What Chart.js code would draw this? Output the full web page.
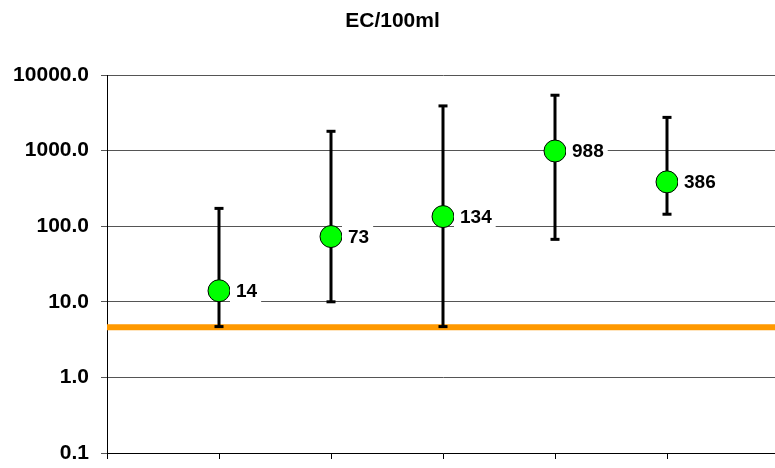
<!DOCTYPE html>
<html><head><meta charset="utf-8">
<script src="https://cdn.jsdelivr.net/npm/chart.js@4/dist/chart.umd.min.js"></script>
<style>html,body{margin:0;padding:0;overflow:hidden;background:#fff}canvas{display:block}</style>
</head><body>
<canvas id="c" width="781" height="468"></canvas>
<script>
// ---- data ----
const categories = ['1', '2', '3', '4', '5'];
const geoMeans = [14, 73, 134, 988, 386];
const lowValues = [4.7, 10, 4.7, 67, 144];
const highValues = [172, 1800, 3900, 5400, 2750];
const pointLabels = ['14', '73', '134', '988', '386'];
const yTicks = [0.1, 1, 10, 100, 1000, 10000];
const thresholdValue = 4.6;
const titleText = 'EC/100ml';

const FONT = '"Liberation Sans", Arial, Helvetica, sans-serif';

const pointData = categories.map((c, i) => ({ x: i + 1, y: geoMeans[i] }));
const thresholdData = [{ x: 0, y: thresholdValue }, { x: categories.length + 1, y: thresholdValue }];

const errorBarPlugin = {
  id: 'errorBars',
  afterDatasetDraw(chart, args) {
    if (args.index !== 0) return;
    const ctx = chart.ctx, xs = chart.scales.x, ys = chart.scales.y;
    ctx.save();
    ctx.strokeStyle = '#000';
    ctx.fillStyle = '#000';
    ctx.lineWidth = 3;
    categories.forEach((c, i) => {
      const x = xs.getPixelForValue(i + 1);
      const yl = ys.getPixelForValue(lowValues[i]);
      const yh = ys.getPixelForValue(highValues[i]);
      ctx.beginPath();
      ctx.moveTo(x, yl);
      ctx.lineTo(x, yh);
      ctx.stroke();
      ctx.fillRect(x - 4.5, yh - 1.5, 9, 3);
      ctx.fillRect(x - 4.5, yl - 1.5, 9, 3);
    });
    ctx.restore();
  }
};

const labelPlugin = {
  id: 'pointLabels',
  afterDatasetsDraw(chart) {
    const ctx = chart.ctx;
    const meta = chart.getDatasetMeta(1);
    ctx.save();
    ctx.font = 'bold 19px ' + FONT;
    ctx.textBaseline = 'middle';
    ctx.textAlign = 'left';
    meta.data.forEach((pt, i) => {
      const txt = pointLabels[i];
      const w = ctx.measureText(txt).width;
      const bx = pt.x + 11;
      ctx.fillStyle = '#fff';
      ctx.fillRect(bx, pt.y - 13, w + 10, 26);
      ctx.fillStyle = '#000';
      ctx.fillText(txt, bx + 6, pt.y + 1);
    });
    ctx.restore();
  }
};

new Chart(document.getElementById('c'), {
  type: 'scatter',
  data: {
    datasets: [
      {
        type: 'line',
        label: 'threshold',
        data: thresholdData,
        borderColor: '#FF9900',
        borderWidth: 6,
        pointRadius: 0,
        fill: false,
        order: 2
      },
      {
        label: 'EC/100ml',
        data: pointData,
        pointRadius: 11,
        pointHoverRadius: 11,
        backgroundColor: '#00FF00',
        borderColor: '#000',
        borderWidth: 1,
        order: 1
      }
    ]
  },
  options: {
    responsive: false,
    devicePixelRatio: 1,
    animation: false,
    events: [],
    layout: { autoPadding: false, padding: { left: 6, right: 2, top: 0, bottom: 9 } },
    plugins: {
      legend: { display: false },
      tooltip: { enabled: false },
      title: {
        display: true,
        text: titleText,
        color: '#000',
        font: { family: FONT, size: 21, weight: 'bold', lineHeight: 1.2 },
        padding: { top: 8.4, bottom: 41.4 }
      }
    },
    scales: {
      x: {
        type: 'linear',
        min: 0,
        max: categories.length + 1,
        afterFit(scale) { scale.paddingLeft = 0; scale.paddingRight = 0; scale.height = 6; },
        ticks: { display: false, stepSize: 1 },
        grid: { drawOnChartArea: false, tickLength: 6, color: '#000', lineWidth: 1 },
        border: { display: true, color: '#000', width: 1 }
      },
      y: {
        type: 'logarithmic',
        min: yTicks[0],
        max: yTicks[yTicks.length - 1],
        afterBuildTicks(scale) {
          scale.ticks = yTicks.map(v => ({ value: v }));
        },
        afterFit(scale) { scale.width = 101; scale.paddingTop = 0; scale.paddingBottom = 0; },
        ticks: {
          color: '#000',
          padding: 12,
          font: { family: FONT, size: 21, weight: 'bold' },
          callback: (v) => Number(v).toFixed(1)
        },
        grid: { color: '#555', lineWidth: 1, tickLength: 6 },
        border: { display: true, color: '#000', width: 1 }
      }
    }
  },
  plugins: [errorBarPlugin, labelPlugin]
});
</script>
</body></html>
